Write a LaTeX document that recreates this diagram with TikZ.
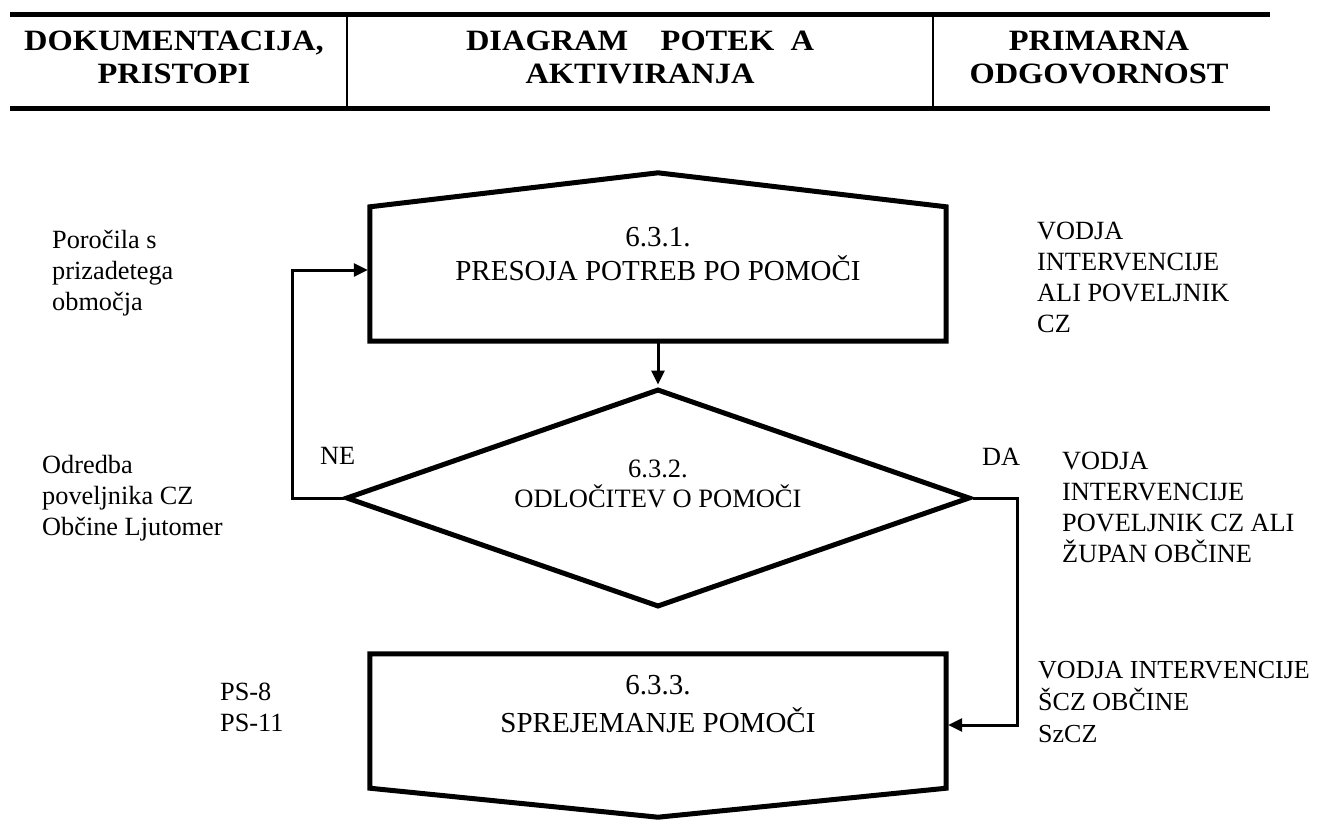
\documentclass[tikz,border=0pt]{standalone}
\usepackage{fontspec}
\setmainfont{Liberation Serif}
\newfontfamily\headfont{Liberation Serif}[FakeStretch=1.1]
\usepackage{tikz}
\usetikzlibrary{arrows.meta,shapes}

\begin{document}
\begin{tikzpicture}[x=1pt,y=-1pt,
    rule/.style={line width=5pt},
    colsep/.style={line width=1.5pt},
    headtxt/.style={font=\headfont\bfseries\fontsize{29.5}{33}\selectfont,align=center,anchor=base,inner sep=0pt},
    frame/.style={rectangle,minimum width=576pt,minimum height=134pt,inner sep=0pt},
    outline/.style={line width=5pt},
    decision/.style={diamond,draw,line width=5pt,minimum width=624pt,minimum height=218pt,inner sep=0pt},
    boxtxt/.style={font=\fontsize{29}{34}\selectfont,align=center,anchor=base,inner sep=0pt},
    dectxt/.style={font=\fontsize{26.5}{30}\selectfont,align=center,anchor=base,inner sep=0pt},
    sidetxt/.style={font=\fontsize{26.3}{31}\selectfont,align=left,anchor=base west,inner sep=0pt},
    conn/.style={line width=3pt,shorten >=2pt,-{Triangle[length=14pt,width=13pt]}}]
  \useasboundingbox (0,0) rectangle (1320,823);

  \draw[rule] (10,14.5) -- (1270,14.5);
  \draw[rule] (10,108.5) -- (1270,108.5);
  \draw[colsep] (347,17) -- (347,106);
  \draw[colsep] (933,17) -- (933,106);
  \node[headtxt] (hdoc) at (174,83) {DOKUMENTACIJA,\\PRISTOPI};
  \node[headtxt] (hdiag) at (640,83) {DIAGRAM\ \ \ \ POTEK\ \ A\\AKTIVIRANJA};
  \node[headtxt] (hresp) at (1099,83) {PRIMARNA\\ODGOVORNOST};

  \node[frame] (pres) at (658,274) {};
  \draw[outline] (pres.south west) -- (pres.north west) -- ([yshift=34pt]pres.north)
    -- (pres.north east) -- (pres.south east) -- cycle;
  \node[boxtxt] (presT) at (658,280) {6.3.1.\\PRESOJA POTREB PO POMOČI};

  \node[decision] (odl) at (658,498) {};
  \node[dectxt] (odlT) at (658,507) {6.3.2.\\ODLOČITEV O POMOČI};

  \node[frame] (spr) at (658,721) {};
  \draw[outline] (spr.south west) -- (spr.north west) -- (spr.north east)
    -- (spr.south east) -- ([yshift=-29pt]spr.south) -- cycle;
  \node[boxtxt,font=\fontsize{29}{38}\selectfont] (sprT) at (658,732) {6.3.3.\\SPREJEMANJE POMOČI};

  \draw[conn] (pres.south) -- (odl.north);
  \draw[conn] (odl.west) -- ++(-51,0) |- ([yshift=4pt]pres.west);
  \draw[conn] (odl.east) -- ++(45,0) |- ([yshift=-4pt]spr.east);

  \node[sidetxt] (rep) at (52,310) {Poročila s\\prizadetega\\območja};
  \node[sidetxt] (ord) at (42,535) {Odredba\\poveljnika CZ\\Občine Ljutomer};
  \node[sidetxt] (ps) at (220,731) {PS-8\\PS-11};
  \node[sidetxt] (ne) at (320,464) {NE};
  \node[sidetxt] (da) at (982,465) {DA};
  \node[sidetxt] (resp1) at (1037,332) {VODJA\\INTERVENCIJE\\ALI POVELJNIK\\CZ};
  \node[sidetxt] (resp2) at (1062,562) {VODJA\\INTERVENCIJE\\POVELJNIK CZ ALI\\ŽUPAN OBČINE};
  \node[sidetxt,font=\fontsize{26}{32}\selectfont] (resp3) at (1038,742) {VODJA INTERVENCIJE\\ŠCZ OBČINE\\SzCZ};
\end{tikzpicture}
\end{document}
